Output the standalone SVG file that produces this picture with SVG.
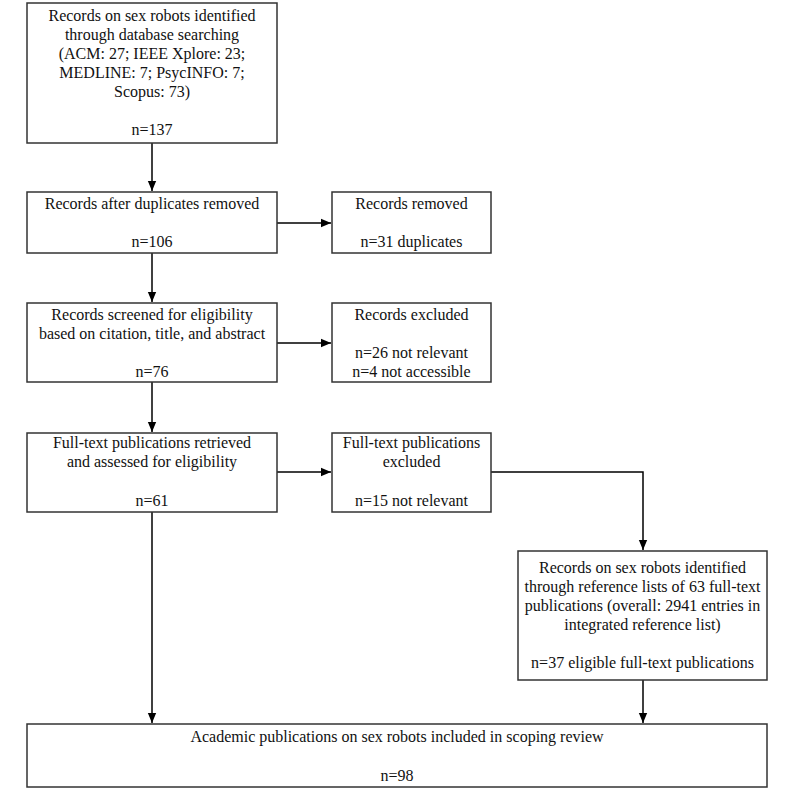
<svg xmlns="http://www.w3.org/2000/svg" width="800" height="800" viewBox="0 0 800 800">
<style>
.box{fill:#fff;stroke:#333;stroke-width:1.5}
.t{font-family:"Liberation Serif","Times New Roman",serif;font-size:16px;fill:#111;text-anchor:middle}
.c{fill:none;stroke:#000;stroke-width:1.5}
</style>
<defs>
<marker id="ah" markerWidth="10" markerHeight="12" refX="12" refY="5" orient="auto" markerUnits="userSpaceOnUse" viewBox="0 0 12 10">
<path d="M0,0 L12,5 L0,10 Z" fill="#000"/>
</marker>
</defs>
<rect width="800" height="800" fill="#fff"/>
<g id="connectors">
<line class="c" x1="152" y1="143" x2="152" y2="191" marker-end="url(#ah)"/>
<line class="c" x1="277" y1="223" x2="331" y2="223" marker-end="url(#ah)"/>
<line class="c" x1="152" y1="253" x2="152" y2="302" marker-end="url(#ah)"/>
<line class="c" x1="277" y1="343" x2="331" y2="343" marker-end="url(#ah)"/>
<line class="c" x1="152" y1="382" x2="152" y2="432" marker-end="url(#ah)"/>
<line class="c" x1="277" y1="472" x2="331" y2="472" marker-end="url(#ah)"/>
<polyline class="c" points="491,472 643,472 643,550" marker-end="url(#ah)"/>
<line class="c" x1="152" y1="512" x2="152" y2="723" marker-end="url(#ah)"/>
<line class="c" x1="643" y1="680" x2="643" y2="723" marker-end="url(#ah)"/>
</g>
<g id="n1">
<rect class="box" x="27" y="3" width="250" height="140"/>
<text class="t" x="152" y="21">Records on sex robots identified</text>
<text class="t" x="152" y="40">through database searching</text>
<text class="t" x="152" y="59">(ACM: 27; IEEE Xplore: 23;</text>
<text class="t" x="152" y="78">MEDLINE: 7; PsycINFO: 7;</text>
<text class="t" x="152" y="97">Scopus: 73)</text>
<text class="t" x="152" y="135">n=137</text>
</g>
<g id="n2">
<rect class="box" x="27" y="192" width="250" height="61"/>
<text class="t" x="152" y="209">Records after duplicates removed</text>
<text class="t" x="152" y="247">n=106</text>
</g>
<g id="n3">
<rect class="box" x="332" y="192" width="159" height="61"/>
<text class="t" x="411.5" y="209">Records removed</text>
<text class="t" x="411.5" y="247">n=31 duplicates</text>
</g>
<g id="n4">
<rect class="box" x="27" y="303" width="250" height="79"/>
<text class="t" x="152" y="320">Records screened for eligibility</text>
<text class="t" x="152" y="339">based on citation, title, and abstract</text>
<text class="t" x="152" y="377">n=76</text>
</g>
<g id="n5">
<rect class="box" x="332" y="303" width="159" height="79"/>
<text class="t" x="411.5" y="320">Records excluded</text>
<text class="t" x="411.5" y="358">n=26 not relevant</text>
<text class="t" x="411.5" y="377">n=4 not accessible</text>
</g>
<g id="n6">
<rect class="box" x="27" y="433" width="250" height="79"/>
<text class="t" x="152" y="448">Full-text publications retrieved</text>
<text class="t" x="152" y="467">and assessed for eligibility</text>
<text class="t" x="152" y="506">n=61</text>
</g>
<g id="n7">
<rect class="box" x="332" y="433" width="159" height="79"/>
<text class="t" x="411.5" y="448">Full-text publications</text>
<text class="t" x="411.5" y="467">excluded</text>
<text class="t" x="411.5" y="506">n=15 not relevant</text>
</g>
<g id="n8">
<rect class="box" x="518" y="551" width="249" height="129"/>
<text class="t" x="642.5" y="573">Records on sex robots identified</text>
<text class="t" x="642.5" y="592">through reference lists of 63 full-text</text>
<text class="t" x="642.5" y="611">publications (overall: 2941 entries in</text>
<text class="t" x="642.5" y="630">integrated reference list)</text>
<text class="t" x="642.5" y="668">n=37 eligible full-text publications</text>
</g>
<g id="n9">
<rect class="box" x="27" y="724" width="740" height="63"/>
<text class="t" x="397" y="742">Academic publications on sex robots included in scoping review</text>
<text class="t" x="397" y="781">n=98</text>
</g>
</svg>
